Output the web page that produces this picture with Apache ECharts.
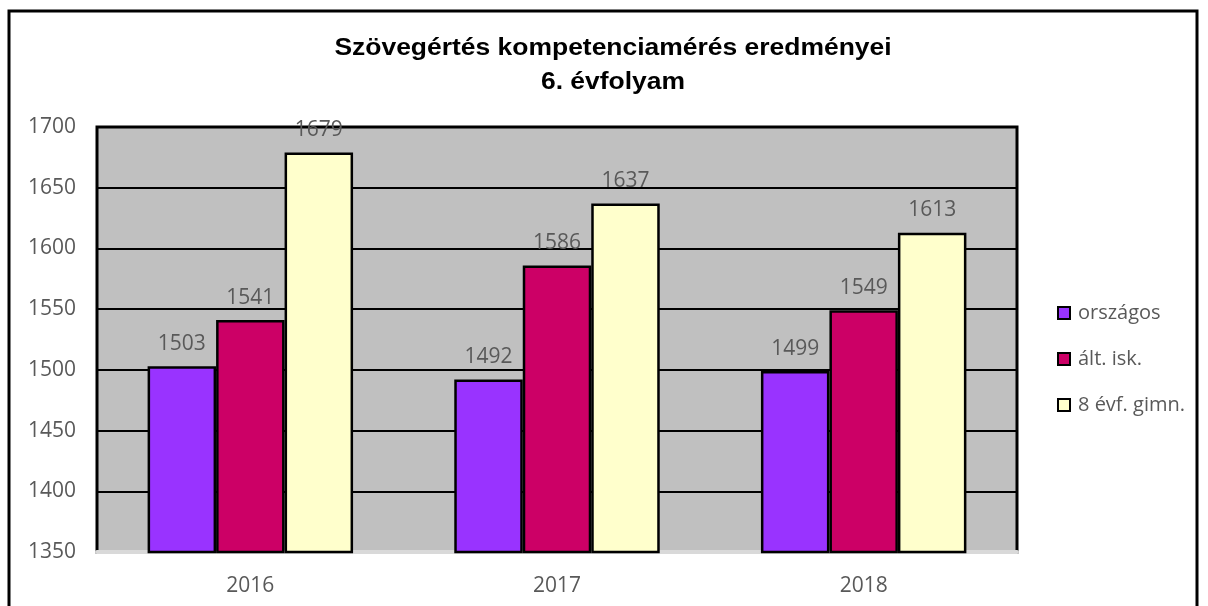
<!DOCTYPE html>
<html><head><meta charset="utf-8">
<script src="https://cdn.jsdelivr.net/npm/echarts@6/dist/echarts.min.js"></script>
<style>html,body{margin:0;padding:0;background:#fff}#c{width:1208px;height:606px}</style>
</head><body><div id="c"></div>
<script>
const categories = ['2016', '2017', '2018'];
const seriesNames = ['országos', 'ált. isk.', '8 évf. gimn.'];
const orszagos = [1503, 1492, 1499];
const altIsk = [1541, 1586, 1549];
const gimn = [1679, 1637, 1613];
const yTicks = [1350, 1400, 1450, 1500, 1550, 1600, 1650, 1700];
const titleLines = ['Szövegértés kompetenciamérés eredményei', '6. évfolyam'];
const colors = ['#9933ff', '#cc0066', '#ffffcc'];

const values = [orszagos, altIsk, gimn];
const chart = echarts.init(document.getElementById('c'), null, {renderer: 'canvas'});
const labelFont = {color: '#595959', fontSize: 21, fontFamily: 'Open Sans'};
const titleStyle = {fontFamily: 'Liberation Sans', fontWeight: 'bold', fontSize: 23, fill: '#000',
  textAlign: 'center', textVerticalAlign: 'middle'};
chart.setOption({
  animation: false,
  backgroundColor: '#ffffff',
  graphic: [
    {type: 'rect', shape: {x: 9, y: 11, width: 1188, height: 620},
     style: {fill: null, stroke: '#000', lineWidth: 3}, z: 100, silent: true},
    {type: 'text', x: 613, y: 49, scaleX: 1.15, style: Object.assign({text: titleLines[0]}, titleStyle), z: 100},
    {type: 'text', x: 613, y: 83, scaleX: 1.15, style: Object.assign({text: titleLines[1]}, titleStyle), z: 100}
  ],
  legend: {
    orient: 'vertical', left: 1052, top: 298, itemGap: 26,
    itemWidth: 12, itemHeight: 12, icon: 'rect',
    textStyle: Object.assign({}, labelFont, {fontSize: 20, padding: [0, 0, 0, 3]}),
    itemStyle: {borderColor: '#000', borderWidth: 2}
  },
  grid: {
    left: 97, right: 191, top: 127, bottom: 54,
    show: true, backgroundColor: '#c0c0c0', borderColor: '#000', borderWidth: 3
  },
  xAxis: {
    type: 'category', data: categories,
    axisLine: {show: true, lineStyle: {color: '#d9d9d9', width: 4}},
    axisTick: {show: false},
    axisLabel: Object.assign({}, labelFont, {margin: 24})
  },
  yAxis: {
    type: 'value', min: 1350, max: 1700, interval: 50,
    axisLine: {show: false}, axisTick: {show: false},
    axisLabel: Object.assign({}, labelFont, {margin: 21, formatter: v => String(v)}),
    splitLine: {show: true, lineStyle: {color: '#000', width: 2}}
  },
  series: seriesNames.map((n, i) => ({
    name: n, type: 'bar', data: values[i],
    barGap: '0%', barCategoryGap: '33%',
    itemStyle: {color: colors[i], borderColor: '#000', borderWidth: 2.5},
    label: Object.assign({show: true, position: 'top', distance: 12}, labelFont)
  }))
});
</script></body></html>
